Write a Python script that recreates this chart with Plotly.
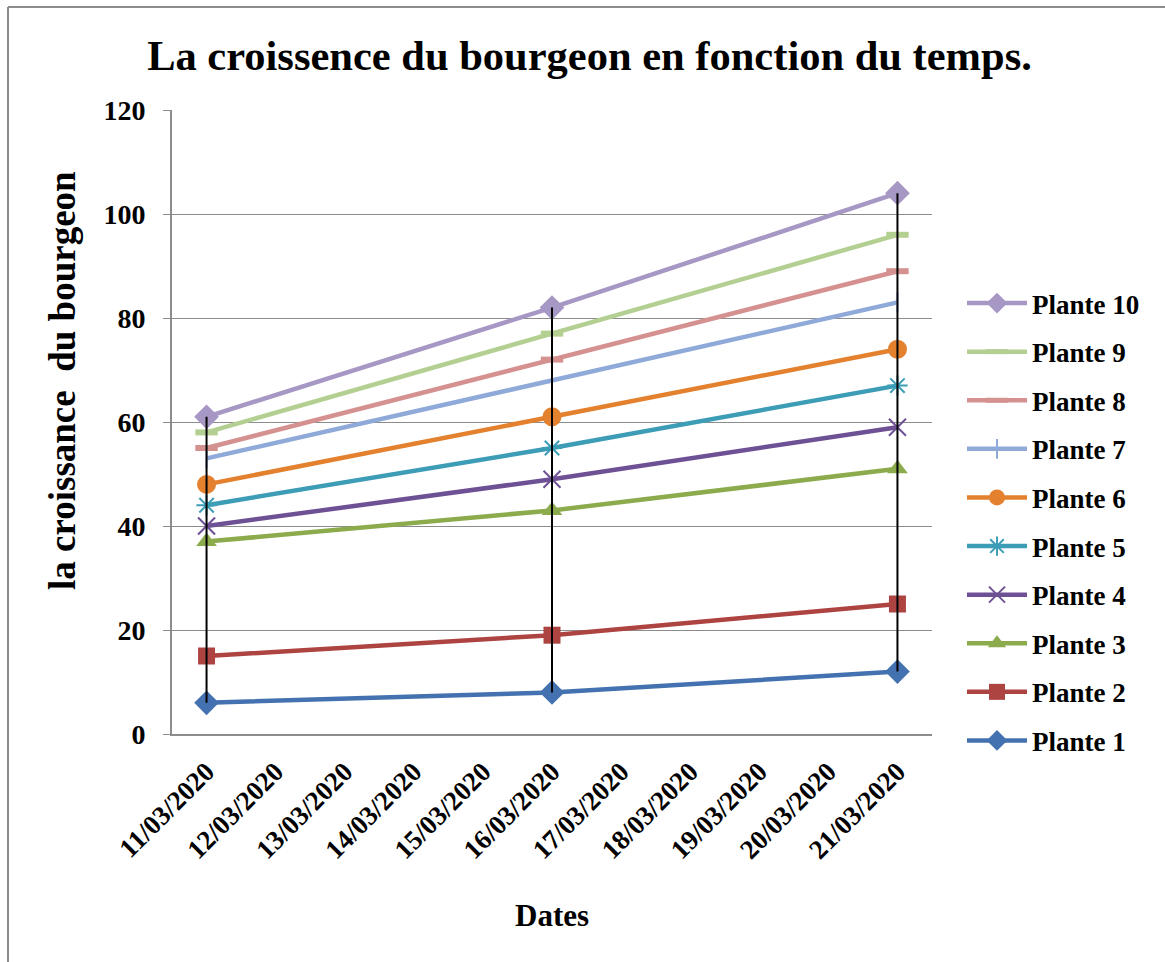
import plotly.graph_objects as go

# ---- data ----
dates = ["2020-03-11", "2020-03-16", "2020-03-21"]
tick_dates = ["2020-03-%02d" % d for d in range(11, 22)]
tick_labels = ["%02d/03/2020" % d for d in range(11, 22)]

series_names = ["Plante 1", "Plante 2", "Plante 3", "Plante 4", "Plante 5",
                "Plante 6", "Plante 7", "Plante 8", "Plante 9", "Plante 10"]
plante_1 = [6, 8, 12]
plante_2 = [15, 19, 25]
plante_3 = [37, 43, 51]
plante_4 = [40, 49, 59]
plante_5 = [44, 55, 67]
plante_6 = [48, 61, 74]
plante_7 = [53, 68, 83]
plante_8 = [55, 72, 89]
plante_9 = [58, 77, 96]
plante_10 = [61, 82, 104]
values = [plante_1, plante_2, plante_3, plante_4, plante_5,
          plante_6, plante_7, plante_8, plante_9, plante_10]

colors = ["#4472B0", "#AD4441", "#8CAB4C", "#6E5195", "#3D9DB6",
          "#E3812F", "#8FAAD8", "#D49190", "#B3CF92", "#A797C4"]
symbols = ["diamond", "square", "triangle-up", "x-thin-open", "asterisk-open",
           "circle", "line-ns-open", "line-ew-open", "line-ew-open", "diamond"]
sizes = [19, 17, 18, 17, 17, 19, 14, 16, 16, 19]
mlw = [0, 0, 0, 2, 2, 0, 2, 6, 6, 0]

FONT = "Liberation Serif"
fig = go.Figure()
n = len(series_names)
for i, (name, vals) in enumerate(zip(series_names, values)):
    fig.add_trace(go.Scatter(
        x=dates, y=vals, name=name, mode="lines+markers",
        legendgroup=name, legendrank=(n - i) * 10,
        line=dict(color=colors[i], width=4.5),
        marker=dict(symbol=symbols[i], size=sizes[i], color=colors[i],
                    line=dict(color=colors[i], width=mlw[i])),
    ))

# high-low (drop) lines between lowest and highest series at each date
hx, hy = [], []
for j, d in enumerate(dates):
    col = [v[j] for v in values]
    hx += [d, d, None]
    hy += [min(col), max(col), None]
fig.add_trace(go.Scatter(x=hx, y=hy, mode="lines", showlegend=False,
                         line=dict(color="black", width=2), hoverinfo="skip"))

W, H = 1165, 962
L, R, T, B = 172, 932, 110, 734
pw, ph = R - L, B - T

fig.update_layout(
    width=W, height=H,
    margin=dict(l=L, r=W - R, t=T, b=H - B, autoexpand=False),
    paper_bgcolor="white", plot_bgcolor="white",
    font=dict(family=FONT, color="black", size=28),
    title=dict(text="<b>La croissence du bourgeon en fonction du temps.</b>",
               x=0.506, xref="container", xanchor="center",
               y=1 - 55 / H, yref="container", yanchor="middle",
               font=dict(family=FONT, size=42.5, color="black")),
    showlegend=True,
    legend=dict(x=(962 - L) / pw, xanchor="left", y=(B - 279) / ph, yanchor="top",
                traceorder="grouped", tracegroupgap=10.5,
                itemwidth=60,
                font=dict(family=FONT, size=27, color="black",
                          weight="bold"),
                bgcolor="rgba(0,0,0,0)"),
    xaxis=dict(type="date", range=["2020-03-10 12:00", "2020-03-21 12:00"],
               tickvals=tick_dates, ticktext=["<b>%s</b>" % t for t in tick_labels],
               tickangle=-45, showgrid=False, showline=True, linecolor="#8C8C8C",
               linewidth=2, ticks="", zeroline=False, ticklabelstandoff=9,
               tickfont=dict(family=FONT, size=27, color="black")),
    yaxis=dict(range=[0, 120], dtick=20, showgrid=True, gridcolor="#8C8C8C",
               gridwidth=1.3, showline=True, linecolor="#8C8C8C", linewidth=2,
               ticks="outside", ticklen=7, tickcolor="#8C8C8C", tickwidth=1.3,
               zeroline=False, ticklabelstandoff=12,
               tickvals=[0, 20, 40, 60, 80, 100, 120],
               ticktext=["<b>%d</b>" % v for v in [0, 20, 40, 60, 80, 100, 120]],
               tickfont=dict(family=FONT, size=28, color="black")),
    annotations=[
        dict(text="<b>Dates</b>", xref="paper", yref="paper",
             x=(552 - L) / pw, y=(B - 915) / ph, xanchor="center", yanchor="middle",
             showarrow=False, font=dict(family=FONT, size=31, color="black")),
        dict(text="<b>la croissance  du bourgeon</b>", xref="paper", yref="paper",
             x=(62 - L) / pw, y=(B - 381) / ph, xanchor="center", yanchor="middle",
             textangle=-90, showarrow=False,
             font=dict(family=FONT, size=37, color="black")),
    ],
    shapes=[
        dict(type="line", xref="paper", yref="paper",
             x0=(8 - L) / pw, x1=(W + 10 - L) / pw,
             y0=(B - 7) / ph, y1=(B - 7) / ph,
             line=dict(color="#8C8C8C", width=2)),
        dict(type="line", xref="paper", yref="paper",
             x0=(8 - L) / pw, x1=(8 - L) / pw,
             y0=(B - 7) / ph, y1=(B - H - 10) / ph,
             line=dict(color="#8C8C8C", width=2)),
    ],
)

fig.write_html("out.html", config={"displayModeBar": False},
               post_script="document.body.style.margin='0px';")
